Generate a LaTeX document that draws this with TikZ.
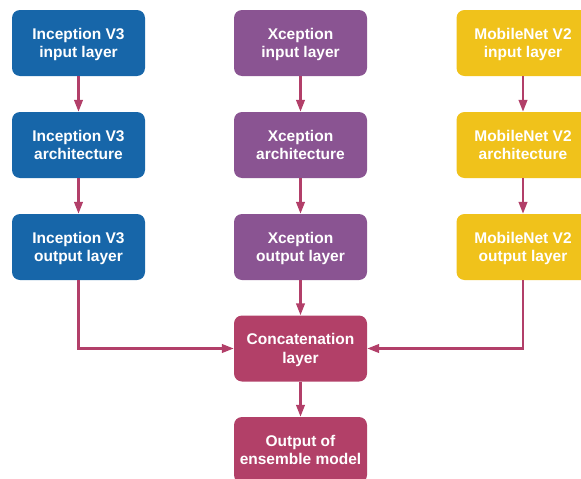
\documentclass[tikz,border=0pt]{standalone}
\usepackage{fontspec}
\setmainfont{Liberation Sans}
\usetikzlibrary{arrows.meta}
\definecolor{incblue}{HTML}{1766A9}
\definecolor{xcppurple}{HTML}{8A5492}
\definecolor{mobyellow}{HTML}{F0C21B}
\definecolor{ensred}{HTML}{B24068}
\definecolor{linkred}{HTML}{B23F69}
\begin{document}
\begin{tikzpicture}[x=1pt,y=-1pt,
  box/.style={rounded corners=8pt, minimum width=133pt, minimum height=66pt,
    text=white, font=\fontsize{15.5}{18.5}\selectfont\bfseries, align=center,
    inner sep=0pt, text depth=0pt},
  link/.style={draw=linkred, line width=2.5pt, -{Triangle[length=12pt,width=8.5pt]}}]
\clip (0,0) rectangle (581,479);
\useasboundingbox (0,0) rectangle (581,479);
% Inception V3 column
\node[box, fill=incblue] (i1) at (78.5,43) {Inception V3\\input layer};
\node[box, fill=incblue] (i2) at (78.5,145) {Inception V3\\architecture};
\node[box, fill=incblue] (i3) at (78.5,247) {Inception V3\\output layer};
% Xception column
\node[box, fill=xcppurple] (x1) at (300.5,43) {Xception\\input layer};
\node[box, fill=xcppurple] (x2) at (300.5,145) {Xception\\architecture};
\node[box, fill=xcppurple] (x3) at (300.5,247) {Xception\\output layer};
% MobileNet V2 column
\node[box, fill=mobyellow] (m1) at (523,43) {MobileNet V2\\input layer};
\node[box, fill=mobyellow] (m2) at (523,145) {MobileNet V2\\architecture};
\node[box, fill=mobyellow] (m3) at (523,247) {MobileNet V2\\output layer};
% merge and output
\node[box, fill=ensred] (c) at (300.5,348.5) {Concatenation\\layer};
\node[box, fill=ensred] (o) at (300.5,450) {Output of\\ensemble model};
% connectors
\draw[link] (i1) -- (i2);
\draw[link] (i2) -- (i3);
\draw[link] (x1) -- (x2);
\draw[link] (x2) -- (x3);
\draw[link] (m1) -- (m2);
\draw[link] (m2) -- (m3);
\draw[link] (x3) -- (c);
\draw[link] (i3.south) |- (c.west);
\draw[link] (m3.south) |- (c.east);
\draw[link] (c) -- (o);
\end{tikzpicture}
\end{document}
